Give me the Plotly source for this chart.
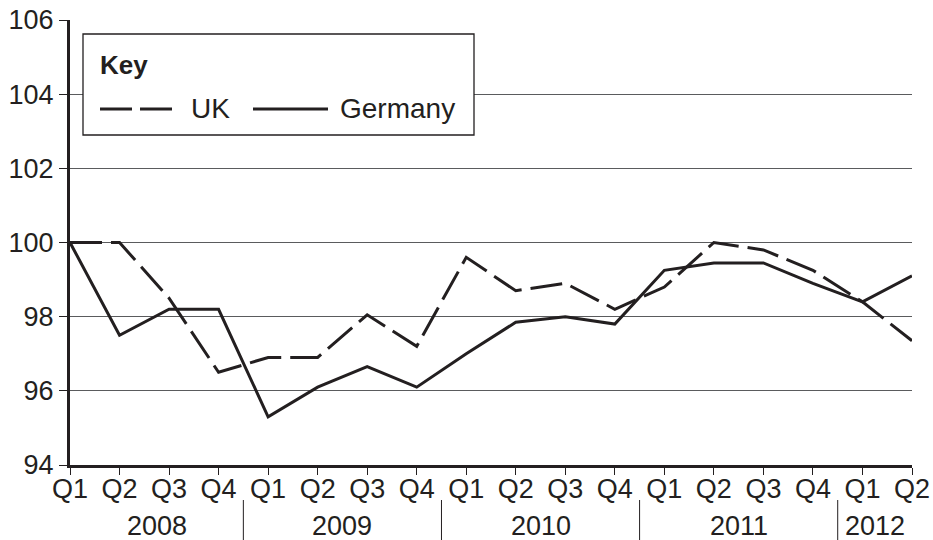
import plotly.graph_objects as go

# ---- data ----
periods = ["2008 Q1", "2008 Q2", "2008 Q3", "2008 Q4",
           "2009 Q1", "2009 Q2", "2009 Q3", "2009 Q4",
           "2010 Q1", "2010 Q2", "2010 Q3", "2010 Q4",
           "2011 Q1", "2011 Q2", "2011 Q3", "2011 Q4",
           "2012 Q1", "2012 Q2"]
quarter_labels = ["Q1", "Q2", "Q3", "Q4"] * 4 + ["Q1", "Q2"]
years = ["2008", "2009", "2010", "2011", "2012"]
uk = [100.0, 100.0, 98.5, 96.5, 96.9, 96.9, 98.05, 97.2, 99.6,
      98.7, 98.9, 98.2, 98.8, 100.0, 99.8, 99.25, 98.4, 97.35]
germany = [100.0, 97.5, 98.2, 98.2, 95.3, 96.1, 96.65, 96.1, 97.0,
           97.85, 98.0, 97.8, 99.25, 99.45, 99.45, 98.9, 98.4, 99.1]
y_ticks = [94, 96, 98, 100, 102, 104, 106]

# ---- layout geometry (body margin removed via post_script) ----
W, H = 933, 540
X0, X1, Y0, Y1 = 70, 912, 20, 465          # plot area in screen pixels
ML, MT = X0, Y0
PW, PH = X1 - X0, Y1 - Y0
MR, MB = W - ML - PW, H - MT - PH
INK = "#231f20"
GRID = "#5a5b5d"
FONT = "Liberation Sans, Arial, Helvetica, sans-serif"


def px(x):
    return (x - X0) / PW


def py(y):
    return (Y1 - y) / PH


fig = go.Figure()
fig.add_trace(go.Scatter(x=periods, y=uk, mode="lines", name="UK",
                         line=dict(color=INK, width=3, dash="32px,9px")))
fig.add_trace(go.Scatter(x=periods, y=germany, mode="lines", name="Germany",
                         line=dict(color=INK, width=3)))

fig.update_layout(
    width=W, height=H,
    margin=dict(l=ML, r=MR, t=MT, b=MB, pad=0, autoexpand=False),
    paper_bgcolor="white", plot_bgcolor="white",
    showlegend=False, hovermode=False,
    font=dict(family=FONT, size=27, color=INK),
)
fig.update_xaxes(
    type="category", range=[0, len(periods) - 1], automargin=False,
    tickmode="array", tickvals=periods, ticktext=quarter_labels,
    showline=True, linecolor=INK, linewidth=3,
    ticks="outside", ticklen=7, tickwidth=1, tickcolor=INK,
    showgrid=False, zeroline=False, ticklabeloverflow="allow",
    ticklabelstandoff=-9,
    tickfont=dict(family=FONT, size=27, color=INK),
)
fig.update_yaxes(
    range=[94, 106], tickmode="array", tickvals=y_ticks, automargin=False,
    showline=True, linecolor=INK, linewidth=3,
    ticks="outside", ticklen=8, tickwidth=1, tickcolor=INK,
    showgrid=True, gridcolor=GRID, gridwidth=1, zeroline=False,
    ticklabeloverflow="allow",
    tickfont=dict(family=FONT, size=27, color=INK),
)

# year group labels and dividers
bounds = [0]
for i in range(1, len(periods)):
    if periods[i][:4] != periods[i - 1][:4]:
        bounds.append(i - 0.5)
bounds.append(len(periods) - 1)
for k, yr in enumerate(years):
    fig.add_annotation(x=(bounds[k] + bounds[k + 1]) / 2, y=py(526),
                       xref="x", yref="paper", text=yr, showarrow=False,
                       xanchor="center", yanchor="middle",
                       font=dict(family=FONT, size=27, color=INK))
for b in bounds[1:-1]:
    fig.add_shape(type="line", xref="x", yref="paper", x0=b, x1=b,
                  y0=py(500), y1=py(540), line=dict(color=INK, width=1))

# key box
fig.add_shape(type="rect", xref="paper", yref="paper",
              x0=px(83), x1=px(474), y0=py(135), y1=py(34),
              line=dict(color=INK, width=1.3), fillcolor="white", layer="above")
fig.add_annotation(x=px(98), y=py(65), xref="paper", yref="paper",
                   text="<b>Key</b>", showarrow=False, xanchor="left",
                   yanchor="middle", font=dict(family=FONT, size=26, color=INK))
fig.add_shape(type="line", xref="paper", yref="paper",
              x0=px(100), x1=px(172), y0=py(109), y1=py(109),
              line=dict(color=INK, width=3, dash="32px,8px"), layer="above")
fig.add_annotation(x=px(189), y=py(109), xref="paper", yref="paper",
                   text="UK", showarrow=False, xanchor="left",
                   yanchor="middle", font=dict(family=FONT, size=28, color=INK))
fig.add_shape(type="line", xref="paper", yref="paper",
              x0=px(253), x1=px(328), y0=py(109), y1=py(109),
              line=dict(color=INK, width=3), layer="above")
fig.add_annotation(x=px(338), y=py(109), xref="paper", yref="paper",
                   text="Germany", showarrow=False, xanchor="left",
                   yanchor="middle", font=dict(family=FONT, size=28, color=INK))

fig.write_html("out.html",
               config={"displayModeBar": False, "staticPlot": True},
               post_script="document.body.style.margin='0px';")
